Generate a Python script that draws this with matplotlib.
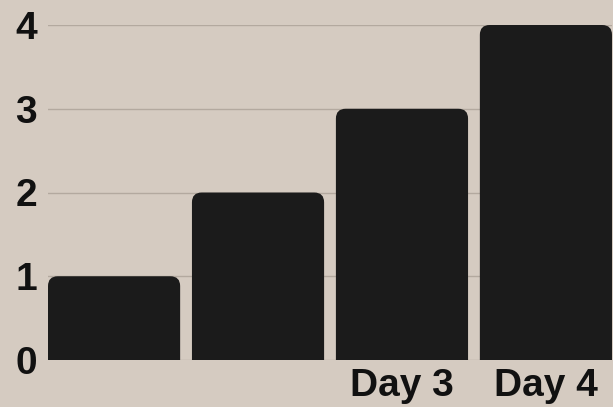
import matplotlib
matplotlib.use("Agg")
from matplotlib import pyplot as plt
from matplotlib.patches import FancyBboxPatch

days = ["Day 1", "Day 2", "Day 3", "Day 4"]
values = [1, 2, 3, 4]
tick_labels = ["", "", "Day 3", "Day 4"]
y_ticks = [0, 1, 2, 3, 4]

bg = "#d5cbc1"
bar_color = "#1b1b1b"
grid_color = "#b3a99f"

plt.rcParams['font.family'] = ['Liberation Sans', 'DejaVu Sans']

fig = plt.figure(figsize=(6.13, 4.07), dpi=100, facecolor=bg)
ax = fig.add_axes([48 / 613, 47 / 407, 564 / 613, 335 / 407])
ax.set_facecolor(bg)

width = 0.918
x = list(range(len(days)))
ax.set_xlim(-width / 2, len(days) - 1 + width / 2)
ax.set_ylim(0, 4)

# invisible bars give the geometry, rounded patches are drawn on top
bars = ax.bar(x, values, width=width, color=bar_color, alpha=0, zorder=2)

r = 0.068
aspect = 1.72
extra = 0.3  # push bottom corners below y=0 so the axes clip them square
for b in bars:
    bx, by = b.get_x(), b.get_y()
    bw, bh = b.get_width(), b.get_height()
    ax.add_patch(FancyBboxPatch((bx, by - extra), bw, bh + extra,
                                boxstyle=f"round,pad=0,rounding_size={r}",
                                mutation_aspect=aspect,
                                facecolor=bar_color, edgecolor="none", zorder=3))

ax.set_yticks(y_ticks)
ax.set_yticklabels([str(v) for v in y_ticks])
ax.set_xticks(x)
ax.set_xticklabels(tick_labels)
ax.tick_params(length=0, labelsize=28)
ax.tick_params(axis='y', pad=8)
ax.tick_params(axis='x', pad=6)
for lab in ax.get_xticklabels() + ax.get_yticklabels():
    lab.set_fontweight("bold")
    lab.set_color("#111111")

ax.yaxis.grid(True, color=grid_color, linewidth=1)
ax.set_axisbelow(True)
for s in ax.spines.values():
    s.set_visible(False)

plt.savefig("out.png", dpi=100, facecolor=bg)
